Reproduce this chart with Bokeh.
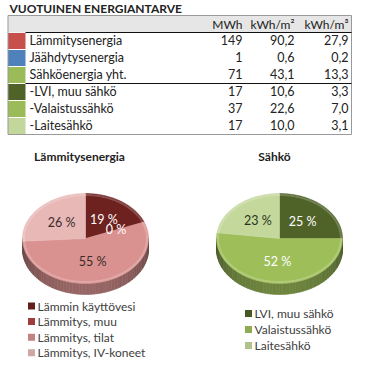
import numpy as np
from bokeh.plotting import figure
from bokeh.models import Range1d
from bokeh.core.properties import value
from bokeh.embed import file_html
from bokeh.resources import INLINE

# ---------------- data ----------------
title_text = "VUOTUINEN ENERGIANTARVE"
col_headers = ["MWh", "kWh/m²", "kWh/m³"]
row_labels = ["Lämmitysenergia", "Jäähdytysenergia", "Sähköenergia yht.",
              "-LVI, muu sähkö", "-Valaistussähkö", "-Laitesähkö"]
mwh = [149, 1, 71, 17, 37, 17]
kwh_m2 = [90.2, 0.6, 43.1, 10.6, 22.6, 10.0]
kwh_m3 = [27.9, 0.2, 13.3, 3.3, 7.0, 3.1]
row_colors = ["#C8504C", "#4F81BD", "#9BBB59", "#4F6228", "#9BBB59", "#C3D69B"]

heat_title = "Lämmitysenergia"
heat_labels = ["Lämmin käyttövesi", "Lämmitys, muu", "Lämmitys, tilat", "Lämmitys, IV-koneet"]
heat_pct = [19, 0, 55, 26]
heat_colors = ["#6E2220", "#B04442", "#D99290", "#E8B8B7"]
heat_label_colors = ["#FFFFFF", "#FFFFFF", "#3A2A2A", "#3A2A2A"]

elec_title = "Sähkö"
elec_labels = ["LVI, muu sähkö", "Valaistussähkö", "Laitesähkö"]
elec_pct = [25, 52, 23]
elec_colors = ["#4F6228", "#9EBE5A", "#C4D89C"]
elec_label_colors = ["#FFFFFF", "#FFFFFF", "#2A3320"]

FONT = "Lato"

p = figure(width=352, height=360, output_backend="svg", toolbar_location=None,
           x_range=Range1d(0, 352), y_range=Range1d(360, 0),
           min_border=0, outline_line_color=None)
p.axis.visible = False
p.grid.visible = False
p.background_fill_color = "white"
p.border_fill_color = "white"

# ---------------- table ----------------
p.text(x=[9], y=[8], text=[title_text], text_font=value(FONT), text_font_style="bold",
       text_font_size="12px", text_baseline="middle", text_color="#222222")

t_top, hdr_bot, row_h = 15.0, 32.0, 17.0
left_x, sw_x, right_x = 7.5, 25.0, 351.0
n = len(row_labels)
t_bot = hdr_bot + n * row_h
p.quad(left=[left_x], right=[right_x], top=[t_top], bottom=[hdr_bot], fill_color="#E6E6E6", line_color=None)
tops = [hdr_bot + i * row_h for i in range(n)]
bots = [t + row_h for t in tops]
p.quad(left=[left_x] * n, right=[sw_x] * n, top=[t + 0.5 for t in tops], bottom=[b - 0.5 for b in bots],
       fill_color=row_colors, line_color=None)
# borders
p.segment(x0=[left_x, right_x, left_x, left_x, sw_x, sw_x],
          y0=[t_top, t_top, t_top, t_bot, hdr_bot, hdr_bot + 3 * row_h],
          x1=[left_x, right_x, right_x, right_x, right_x, right_x],
          y1=[t_bot, t_bot, t_top, t_bot, hdr_bot, hdr_bot + 3 * row_h],
          line_color=["#999999", "#999999", "#999999", "#999999", "#111111", "#111111"], line_width=1)
centers = [t + row_h / 2 - 1 for t in tops]
col_x = [242, 294, 348]
p.text(x=col_x, y=[(t_top + hdr_bot) / 2] * 3, text=col_headers, text_font=value(FONT),
       text_font_size="12px", text_align="right", text_baseline="middle", text_color="#222222")
p.text(x=[29] * n, y=centers, text=row_labels, text_font=value(FONT), text_font_size="12.5px",
       text_baseline="middle", text_color="#222222")
fmt = lambda v: f"{v:.1f}".replace(".", ",")
for cx, vals in zip(col_x, [[str(v) for v in mwh], [fmt(v) for v in kwh_m2], [fmt(v) for v in kwh_m3]]):
    p.text(x=[cx] * n, y=centers, text=vals, text_font=value(FONT), text_font_size="12.5px",
           text_align="right", text_baseline="middle", text_color="#222222")


# ---------------- pies ----------------
def hex2rgb(h):
    h = h.lstrip("#")
    return [int(h[i:i + 2], 16) for i in (0, 2, 4)]


def shade(h, f):
    r, g, b = hex2rgb(h)
    return "#%02x%02x%02x" % tuple(int(max(0, min(255, c * f))) for c in (r, g, b))


def draw_pie(cx, cy, rx, ry, depth, pcts, colors, lab_colors, title, tcx, legend, lx, ly0, lstep):
    p.text(x=[tcx], y=[156], text=[title], text_font=value(FONT), text_font_style="bold",
           text_font_size="12px", text_align="center", text_baseline="middle", text_color="#222222")
    total = float(sum(pcts))
    ang = np.concatenate([[0.0], np.cumsum(pcts) / total * 2 * np.pi])
    # side band
    sx, sy, sc = [], [], []
    for i in range(len(pcts)):
        a0, a1 = max(ang[i], np.pi / 2), min(ang[i + 1], 1.5 * np.pi)
        if a1 <= a0:
            continue
        steps = np.linspace(a0, a1, max(2, int((a1 - a0) / np.radians(3)) + 2))
        for t0, t1 in zip(steps[:-1], steps[1:]):
            xa, xb = cx + rx * np.sin(t0), cx + rx * np.sin(t1)
            ya, yb = cy - ry * np.cos(t0), cy - ry * np.cos(t1)
            sx.append([xa, xb, xb, xa])
            sy.append([ya, yb, yb + depth, ya + depth])
            tm = (t0 + t1) / 2
            sc.append(shade(colors[i], 0.45 + 0.25 * (-np.cos(tm))))
    p.patches(xs=sx, ys=sy, fill_color=sc, line_color=sc, line_width=0.6)
    # top face
    xs, ys, fc = [], [], []
    for i in range(len(pcts)):
        if pcts[i] == 0:
            continue
        t = np.linspace(ang[i], ang[i + 1], 80)
        xs.append([cx] + list(cx + rx * np.sin(t)))
        ys.append([cy] + list(cy - ry * np.cos(t)))
        fc.append(colors[i])
    p.patches(xs=xs, ys=ys, fill_color=fc, line_color=fc, line_width=0.5)
    # rim highlight
    tt = np.linspace(0, 2 * np.pi, 200)
    p.line(x=cx + (rx - 1.5) * np.sin(tt), y=cy - (ry - 1.5) * np.cos(tt), line_color="white",
           line_alpha=0.2, line_width=2)
    # labels
    mid = (ang[:-1] + ang[1:]) / 2
    f = 0.52
    p.text(x=list(cx + f * rx * np.sin(mid)), y=list(cy - f * ry * np.cos(mid)),
           text=[f"{v} %" for v in pcts], text_font=value(FONT), text_font_size="12.5px",
           text_align="center", text_baseline="middle", text_color=lab_colors)
    # legend
    m = len(legend)
    ly = [ly0 + k * lstep for k in range(m)]
    p.rect(x=[lx] * m, y=ly, width=7, height=7, fill_color=[shade(c, 0.9) for c in colors], line_color=None)
    p.text(x=[lx + 6] * m, y=ly, text=legend, text_font=value(FONT), text_font_size="12px",
           text_baseline="middle", text_color="#404040")


draw_pie(85, 238, 63, 45, 11, heat_pct, heat_colors, heat_label_colors, heat_title, 79,
         heat_labels, 31, 305.5, 15.6)
draw_pie(279, 238, 63, 45, 11, elec_pct, elec_colors, elec_label_colors, elec_title, 274,
         elec_labels, 248, 313, 16)

open("out.html", "w").write(file_html(p, INLINE))
